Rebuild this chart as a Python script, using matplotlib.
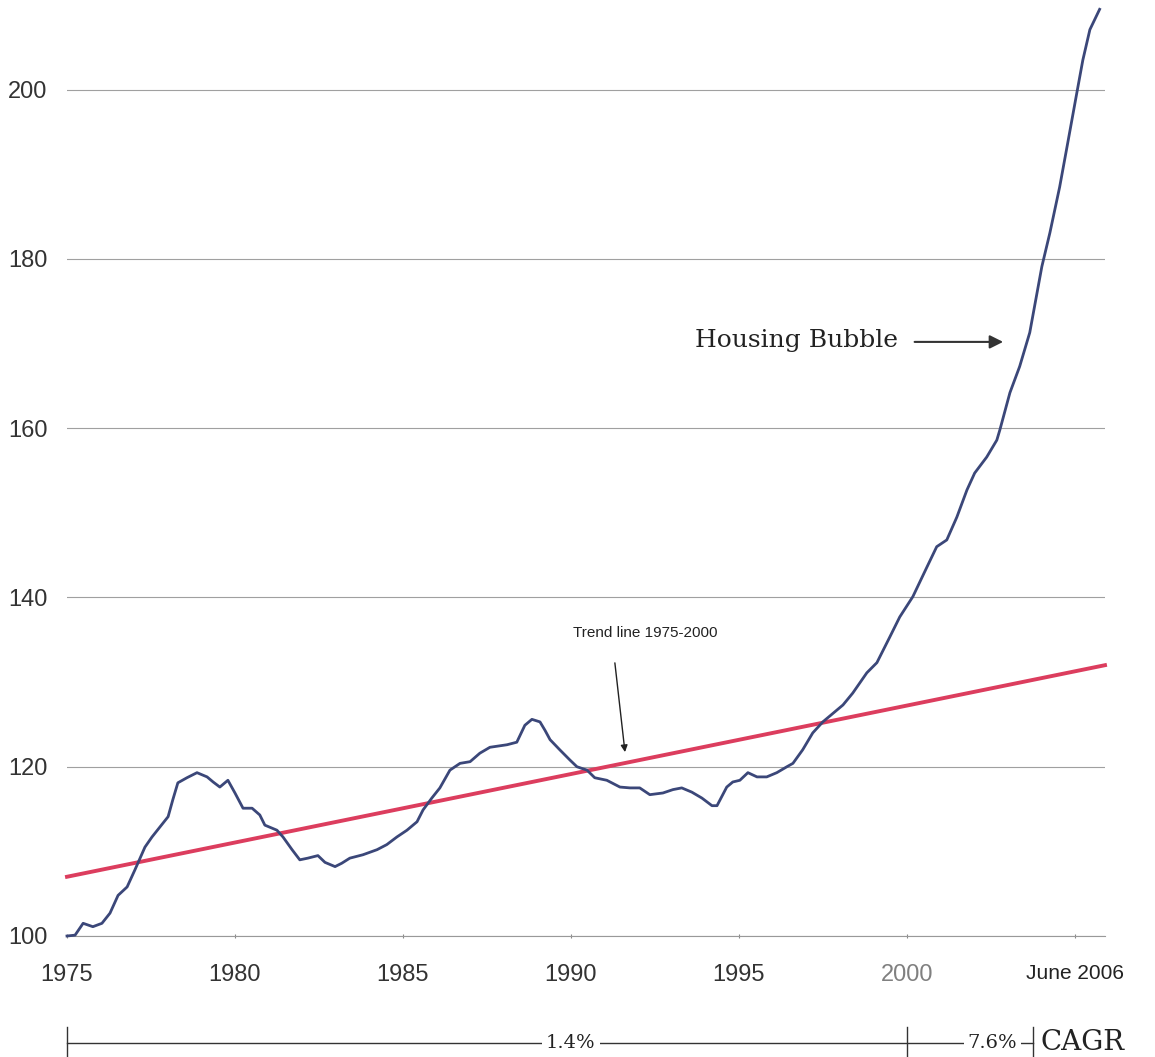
import matplotlib
matplotlib.use("Agg")
import matplotlib.pyplot as plt
from matplotlib.transforms import blended_transform_factory

years = [1975.0, 1975.24, 1975.48, 1975.77, 1976.04, 1976.28, 1976.52, 1976.79, 1977.02, 1977.32,
         1977.53, 1977.77, 1978.01, 1978.15, 1978.30, 1978.57, 1978.87, 1979.17, 1979.35, 1979.55,
         1979.79, 1980.00, 1980.24, 1980.51, 1980.74, 1980.89, 1981.25, 1981.43, 1981.70, 1981.93,
         1982.17, 1982.47, 1982.68, 1982.98, 1983.18, 1983.42, 1983.81, 1984.23, 1984.52, 1984.82,
         1985.12, 1985.42, 1985.60, 1985.86, 1986.10, 1986.40, 1986.70, 1987.00, 1987.29, 1987.59,
         1988.10, 1988.39, 1988.63, 1988.84, 1989.08, 1989.23, 1989.38, 1989.67, 1989.97, 1990.18,
         1990.48, 1990.71, 1991.07, 1991.46, 1991.76, 1992.05, 1992.35, 1992.74, 1993.04, 1993.30,
         1993.60, 1993.90, 1994.20, 1994.35, 1994.64, 1994.82, 1995.03, 1995.27, 1995.54, 1995.83,
         1996.13, 1996.43, 1996.61, 1996.90, 1997.20, 1997.50, 1997.65, 1998.10, 1998.39, 1998.81,
         1999.11, 1999.49, 1999.79, 2000.18, 2000.60, 2000.89, 2001.19, 2001.49, 2001.79, 2002.02,
         2002.38, 2002.68, 2002.77, 2003.07, 2003.36, 2003.66, 2004.02, 2004.26, 2004.55, 2004.79,
         2005.06, 2005.24, 2005.45, 2005.74]
index = [100.0, 100.1, 101.5, 101.1, 101.5, 102.7, 104.8, 105.8, 107.8, 110.5,
         111.7, 112.9, 114.1, 116.1, 118.1, 118.7, 119.3, 118.8, 118.2, 117.6,
         118.4, 116.9, 115.1, 115.1, 114.3, 113.1, 112.5, 111.7, 110.2, 109.0,
         109.2, 109.5, 108.7, 108.2, 108.6, 109.2, 109.6, 110.2, 110.8, 111.7,
         112.5, 113.5, 114.9, 116.3, 117.5, 119.6, 120.4, 120.6, 121.6, 122.3,
         122.6, 122.9, 124.9, 125.6, 125.3, 124.3, 123.2, 122.0, 120.8, 120.0,
         119.6, 118.7, 118.4, 117.6, 117.5, 117.5, 116.7, 116.9, 117.3, 117.5,
         117.0, 116.3, 115.4, 115.4, 117.6, 118.2, 118.4, 119.3, 118.8, 118.8,
         119.3, 120.0, 120.4, 122.0, 124.0, 125.3, 125.8, 127.3, 128.7, 131.1,
         132.3, 135.3, 137.7, 140.1, 143.6, 146.0, 146.8, 149.5, 152.7, 154.7,
         156.6, 158.6, 159.8, 164.2, 167.3, 171.3, 179.1, 183.1, 188.5, 193.7,
         199.6, 203.5, 207.1, 209.5]

trend_years = [1975.0, 2005.9]
trend_vals = [107.0, 132.0]

ytick_vals = [100, 120, 140, 160, 180, 200]
xtick_vals = [1975, 1980, 1985, 1990, 1995, 2000, 2005]
xtick_labels = ["1975", "1980", "1985", "1990", "1995", "2000", "June 2006"]

sans = "Liberation Sans"
serif = "DejaVu Serif"

fig = plt.figure(figsize=(11.55, 10.57), dpi=100)
ax = fig.add_axes([67 / 1155, 1 - 936 / 1057, 1038 / 1155, 936 / 1057])
ax.set_xlim(1975, 2005.9)
ax.set_ylim(100, 210.6)

for s in ["top", "right", "left"]:
    ax.spines[s].set_visible(False)
ax.spines["bottom"].set_color("#999999")
ax.spines["bottom"].set_linewidth(0.8)
ax.yaxis.grid(True, color="#a0a0a0", lw=0.8)
ax.set_axisbelow(True)

ax.set_yticks(ytick_vals)
ax.set_yticklabels([str(v) for v in ytick_vals], fontfamily=sans, fontsize=17, color="#333333")
ax.tick_params(axis="y", length=0, pad=14)
ax.set_xticks(xtick_vals)
ax.set_xticklabels(xtick_labels, fontfamily=sans, fontsize=17, color="#333333")
ax.tick_params(axis="x", length=3, direction="inout", color="#888888", pad=19)
ax.get_xticklabels()[5].set_color("#808080")
ax.get_xticklabels()[6].set_fontsize(15)
ax.get_xticklabels()[6].set_color("#222222")

ax.plot(trend_years, trend_vals, color="#dc3d5e", lw=2.8, clip_on=False, zorder=3)
ax.plot(years, index, color="#3b4779", lw=2.0, clip_on=False, zorder=4,
        solid_joinstyle="round")

# annotations
ax.text(1999.73, 170.4, "Housing Bubble", family=serif, fontsize=18, color="#222222",
        ha="right", va="center")
ax.annotate("", xy=(2002.95, 170.2), xytext=(2000.15, 170.2),
            arrowprops=dict(arrowstyle="-|>", color="#333333", lw=1.5, mutation_scale=20))

ax.text(1992.2, 135.8, "Trend line 1975-2000", family=sans, fontsize=11, color="#222222",
        ha="center", va="center")
ax.annotate("", xy=(1991.62, 121.4), xytext=(1991.3, 132.6),
            arrowprops=dict(arrowstyle="-|>", color="#222222", lw=1.0, mutation_scale=10))

# CAGR bracket row under the axis
tr = blended_transform_factory(ax.transData, fig.transFigure)
yl = 1 - 1043 / 1057
kw = dict(color="#333333", lw=1.0, transform=tr, clip_on=False)
ax.plot([1975, 2003.75], [yl, yl], **kw)
for xb in [1975, 2000, 2003.75]:
    ax.plot([xb, xb], [0.0, 1 - 1027 / 1057], **kw)
tkw = dict(family=serif, color="#222222", va="center", transform=tr,
           bbox=dict(facecolor="white", edgecolor="none", pad=3))
ax.text(1990.0, yl, "1.4%", ha="center", fontsize=14, **tkw)
ax.text(2002.55, yl, "7.6%", ha="center", fontsize=14, **tkw)
ax.text(2003.98, yl, "CAGR", ha="left", fontsize=20, **tkw)

fig.savefig("out.png", dpi=100, facecolor="white")
